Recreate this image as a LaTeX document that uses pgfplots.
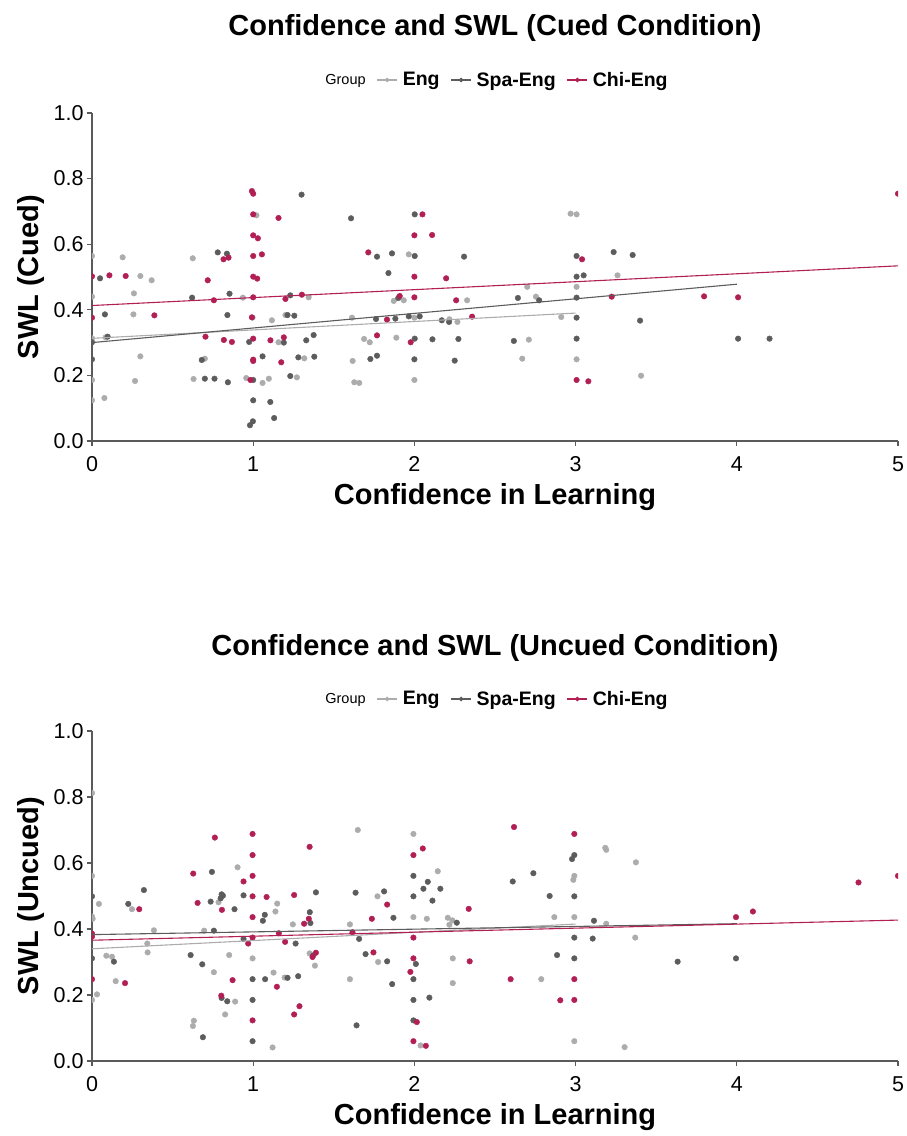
\documentclass[border=0pt]{standalone}
\usepackage{fontspec}
\setmainfont{Liberation Sans}
\usepackage{pgfplots}
\usepackage{pgfplotstable}
\pgfplotsset{compat=1.18}
\definecolor{engc}{RGB}{172,172,172}
\definecolor{spac}{RGB}{92,92,92}
\definecolor{chic}{RGB}{178,31,85}
\definecolor{axc}{RGB}{90,90,90}

% ---------------- Cued ----------------
\pgfplotstableread{
x y
0.00 0.564
0.19 0.560
0.00 0.440
0.26 0.450
0.30 0.503
0.37 0.490
0.257 0.386
0.00 0.313
0.085 0.316
0.30 0.258
0.00 0.186
0.267 0.183
0.00 0.124
0.077 0.131
0.625 0.557
0.936 0.437
1.02 0.688
0.996 0.376
1.116 0.368
1.157 0.301
0.63 0.189
0.70 0.251
0.957 0.192
1.058 0.177
1.097 0.190
1.20 0.384
1.344 0.438
1.965 0.569
1.872 0.427
1.934 0.429
2.327 0.429
1.613 0.376
2.00 0.376
2.217 0.371
2.267 0.363
1.688 0.311
1.723 0.301
1.888 0.315
1.317 0.252
1.617 0.244
1.271 0.194
1.627 0.179
1.658 0.177
2.00 0.186
2.969 0.693
3.006 0.691
3.26 0.505
2.70 0.470
3.006 0.470
2.754 0.440
2.911 0.378
2.71 0.309
2.669 0.251
3.006 0.249
3.406 0.199
}\cuedEng
\pgfplotstableread{
x y
0.05 0.496
0.08 0.386
0.097 0.318
0.00 0.301
0.00 0.249
0.78 0.575
0.837 0.571
0.621 0.437
0.853 0.449
0.84 0.384
0.975 0.302
1.058 0.258
1.19 0.300
0.681 0.247
0.70 0.190
0.76 0.190
0.843 0.179
1.00 0.186
1.00 0.124
1.106 0.119
1.13 0.070
0.98 0.048
0.998 0.060
1.30 0.751
1.607 0.679
2.002 0.691
1.768 0.562
1.861 0.572
2.002 0.564
2.308 0.562
1.839 0.512
1.23 0.444
1.90 0.436
1.213 0.384
1.255 0.382
1.762 0.372
1.882 0.373
1.965 0.380
2.033 0.380
2.17 0.368
2.215 0.363
1.375 0.323
1.329 0.307
2.002 0.312
2.112 0.310
2.273 0.311
1.28 0.255
1.379 0.257
1.727 0.250
1.768 0.260
2.00 0.249
2.25 0.245
1.23 0.198
3.006 0.564
3.236 0.576
3.354 0.567
3.006 0.501
3.05 0.505
2.642 0.436
2.774 0.429
3.006 0.437
3.006 0.376
3.40 0.367
2.617 0.305
3.006 0.312
4.008 0.312
4.203 0.312
}\cuedSpa
\pgfplotstableread{
x y
0.00 0.502
0.108 0.505
0.209 0.503
0.00 0.376
0.387 0.383
0.718 0.490
0.756 0.429
0.816 0.554
0.847 0.559
0.704 0.318
0.818 0.308
0.868 0.302
0.992 0.762
1.00 0.754
1.00 0.691
1.00 0.627
1.029 0.618
1.00 0.564
1.054 0.569
1.00 0.501
1.025 0.495
1.00 0.438
0.992 0.377
1.00 0.312
1.107 0.307
1.00 0.248
1.00 0.244
1.174 0.240
0.983 0.186
1.157 0.680
1.20 0.433
1.19 0.316
2.05 0.691
2.00 0.627
2.11 0.628
1.714 0.575
2.00 0.501
2.197 0.496
1.302 0.446
1.909 0.442
2.00 0.438
2.259 0.429
1.83 0.370
2.358 0.379
1.768 0.322
1.977 0.301
3.04 0.554
3.224 0.440
3.006 0.186
3.079 0.182
3.797 0.441
4.008 0.438
5.00 0.754
}\cuedChi

% ---------------- Uncued ----------------
\pgfplotstableread{
x y
0.00 0.812
0.00 0.561
0.043 0.476
0.00 0.438
0.004 0.431
0.248 0.460
0.384 0.396
0.343 0.356
0.345 0.329
0.089 0.319
0.124 0.316
0.147 0.242
0.031 0.202
0.00 0.185
0.903 0.587
0.785 0.481
0.696 0.395
0.851 0.321
0.756 0.269
0.888 0.180
0.826 0.141
0.632 0.122
0.626 0.106
1.149 0.477
1.138 0.453
0.996 0.311
1.126 0.268
1.12 0.041
1.195 0.253
1.649 0.700
1.994 0.688
2.145 0.575
1.771 0.499
1.246 0.414
1.60 0.414
1.994 0.436
2.077 0.431
2.207 0.434
2.236 0.426
2.217 0.413
1.35 0.326
1.383 0.289
1.775 0.300
1.60 0.248
2.238 0.311
2.238 0.236
2.038 0.047
3.184 0.646
3.19 0.640
3.374 0.602
2.992 0.561
2.986 0.549
2.868 0.436
2.992 0.436
3.19 0.416
3.37 0.374
2.787 0.248
2.992 0.060
3.304 0.042
}\uncEng
\pgfplotstableread{
x y
0.00 0.499
0.00 0.311
0.136 0.301
0.225 0.476
0.322 0.518
0.744 0.573
0.736 0.483
0.798 0.493
0.804 0.505
0.812 0.501
0.756 0.395
0.884 0.460
0.94 0.502
0.94 0.370
0.612 0.321
0.684 0.293
0.804 0.191
0.839 0.181
0.996 0.248
0.996 0.185
1.074 0.248
1.072 0.443
1.06 0.425
0.688 0.072
0.996 0.060
1.389 0.511
1.635 0.510
1.812 0.514
1.351 0.451
1.355 0.418
1.87 0.434
1.994 0.561
2.083 0.543
2.056 0.522
2.161 0.522
1.994 0.499
2.112 0.486
2.263 0.419
1.263 0.356
1.657 0.370
1.372 0.320
1.697 0.324
1.831 0.302
2.009 0.294
1.994 0.248
1.213 0.252
1.279 0.257
1.862 0.233
1.994 0.185
2.093 0.192
1.641 0.108
1.994 0.123
2.992 0.624
2.978 0.612
2.738 0.569
2.61 0.544
2.839 0.500
2.992 0.499
3.114 0.425
2.992 0.374
3.106 0.371
2.885 0.321
2.992 0.311
3.633 0.301
3.995 0.311
}\uncSpa
\pgfplotstableread{
x y
0.00 0.386
0.00 0.377
0.00 0.248
0.205 0.236
0.293 0.460
0.628 0.568
0.655 0.479
0.762 0.677
0.806 0.458
0.94 0.544
0.996 0.688
0.996 0.624
0.996 0.561
0.996 0.499
1.083 0.497
0.996 0.436
0.996 0.374
0.969 0.356
0.872 0.245
0.802 0.198
0.996 0.123
1.147 0.225
1.159 0.387
1.198 0.361
1.35 0.649
1.254 0.503
1.345 0.431
1.316 0.416
1.389 0.328
1.368 0.315
1.616 0.390
1.736 0.431
1.831 0.474
1.746 0.329
1.994 0.624
2.052 0.644
1.994 0.374
1.994 0.311
1.975 0.270
2.337 0.461
2.343 0.302
1.287 0.166
1.254 0.141
2.015 0.118
1.994 0.060
2.071 0.046
2.618 0.709
2.992 0.688
2.597 0.248
2.992 0.248
2.905 0.184
2.992 0.185
3.995 0.436
4.10 0.453
4.755 0.541
5.00 0.561
}\uncChi

\pgfplotsset{
  swl/.style={
    scale only axis, width=806pt,
    xmin=0, xmax=5, ymin=0, ymax=1,
    axis x line*=bottom, axis y line*=left,
    axis line style={axc, line width=1.1pt},
    tick style={axc, line width=1.1pt},
    tick align=outside, major tick length=5pt,
    xtick={0,1,2,3,4,5}, ytick={0,0.2,0.4,0.6,0.8,1.0},
    /pgf/number format/assume math mode=true,
    tick label style={font=\fontsize{21.5}{24}\selectfont, black},
    xticklabel style={yshift=-7pt},
    yticklabel style={/pgf/number format/fixed, /pgf/number format/fixed zerofill, /pgf/number format/precision=1},
    clip marker paths=true,
    title style={font=\fontsize{29}{34}\selectfont\bfseries, at={(0.5,1)}, anchor=center},
    xlabel style={font=\fontsize{29}{34}\selectfont\bfseries, anchor=center},
    ylabel style={font=\fontsize{29}{34}\selectfont\bfseries, anchor=center},
    legend style={draw=none, fill=none, at={(0.5,1)}, anchor=center,
      legend columns=-1, font=\fontsize{19.5}{22}\selectfont\bfseries,
      /tikz/every even column/.append style={column sep=9pt},
      /tikz/every odd column/.append style={column sep=3pt}},
    legend cell align=left,
  },
  keyimg/.style={line width=1.1pt, mark=*, mark size=1.7pt,
    legend image code/.code={\draw[##1, mark repeat=2, mark phase=2] plot coordinates {(0pt,0pt) (10pt,0pt) (20pt,0pt)};}},
  pE/.style={only marks, mark=*, mark size=2.8pt, engc, mark options={draw=none, fill=engc}},
  pS/.style={only marks, mark=*, mark size=2.8pt, spac, mark options={draw=none, fill=spac}},
  pC/.style={only marks, mark=*, mark size=2.8pt, chic, mark options={draw=none, fill=chic}},
}

\begin{document}
\begin{tikzpicture}
\path[use as bounding box] (0pt,0pt) rectangle (907pt,1136pt);

\begin{axis}[swl, height=328pt, at={(92pt,695pt)}, anchor=south west,
  title={Confidence and SWL (Cued Condition)}, title style={yshift=79pt},
  xlabel={Confidence in Learning}, ylabel={SWL (Cued)},
  xlabel style={at={(axis description cs:0.5,-0.1707)}},
  ylabel style={at={(axis description cs:-0.0757,0.5)}},
  legend style={yshift=33pt}]
\addlegendimage{empty legend}\addlegendentry{\fontsize{14.5}{16}\selectfont\mdseries Group}
\addlegendimage{engc, keyimg}\addlegendentry{Eng}
\addlegendimage{spac, keyimg}\addlegendentry{Spa-Eng}
\addlegendimage{chic, keyimg}\addlegendentry{Chi-Eng}
\addplot[pE, forget plot] table {\cuedEng};
\addplot[pS, forget plot] table {\cuedSpa};
\addplot[pC, forget plot] table {\cuedChi};
\addplot[engc, line width=1.1pt, forget plot] coordinates {(0,0.313) (3,0.390)};
\addplot[spac, line width=1.1pt, forget plot] coordinates {(0,0.300) (4,0.478)};
\addplot[chic, line width=1.1pt, forget plot] coordinates {(0,0.413) (5,0.534)};
\end{axis}

\begin{axis}[swl, height=330pt, at={(92pt,75pt)}, anchor=south west,
  title={Confidence and SWL (Uncued Condition)}, title style={yshift=77pt},
  xlabel={Confidence in Learning}, ylabel={SWL (Uncued)},
  xlabel style={at={(axis description cs:0.5,-0.1697)}},
  ylabel style={at={(axis description cs:-0.0757,0.5)}},
  legend style={yshift=32pt}]
\addlegendimage{empty legend}\addlegendentry{\fontsize{14.5}{16}\selectfont\mdseries Group}
\addlegendimage{engc, keyimg}\addlegendentry{Eng}
\addlegendimage{spac, keyimg}\addlegendentry{Spa-Eng}
\addlegendimage{chic, keyimg}\addlegendentry{Chi-Eng}
\addplot[pE, forget plot] table {\uncEng};
\addplot[pS, forget plot] table {\uncSpa};
\addplot[pC, forget plot] table {\uncChi};
\addplot[engc, line width=1.1pt, forget plot] coordinates {(0,0.340) (3,0.415)};
\addplot[spac, line width=1.1pt, forget plot] coordinates {(0,0.383) (4,0.416)};
\addplot[chic, line width=1.1pt, forget plot] coordinates {(0,0.366) (5,0.427)};
\end{axis}
\end{tikzpicture}
\end{document}
